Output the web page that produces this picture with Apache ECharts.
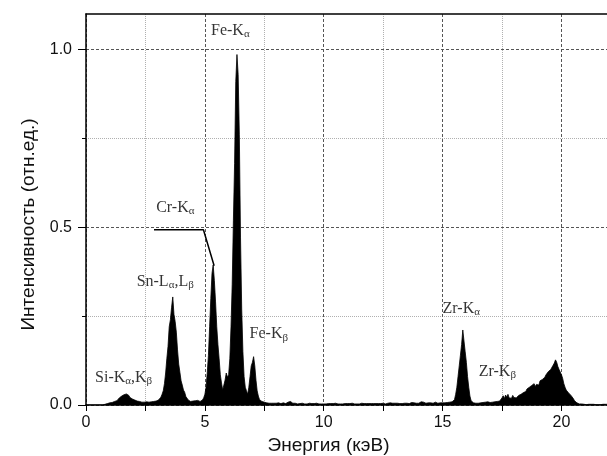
<!DOCTYPE html>
<html><head><meta charset="utf-8">
<script src="https://cdn.jsdelivr.net/npm/echarts@6/dist/echarts.min.js"></script>
<style>html,body{margin:0;padding:0;background:#fff}#c{width:607px;height:456px}</style>
</head><body><div id="c"></div>
<script>
// Spectrum: channel start and width in keV, then intensity per channel (rel. units)
const energyStart = 0;
const energyStep = 0.05;
const intensity = [
  0,0,0,0,0,0,0,0,0,0,0,0,0,0,0,0,0.002,0.003,0.004,0.005,
  0.006,0.005,0.007,0.008,0.010,0.009,0.012,0.015,0.020,0.016,0.025,0.020,0.029,0.024,0.031,0.026,0.027,0.021,0.025,0.017,
  0.020,0.014,0.017,0.011,0.014,0.010,0.012,0.008,0.011,0.008,0.010,0.009,0.012,0.008,0.010,0.009,0.011,0.010,0.012,0.011,
  0.013,0.014,0.018,0.022,0.030,0.040,0.060,0.090,0.130,0.165,0.220,0.240,0.275,0.304,0.255,0.235,0.205,0.155,0.115,0.092,
  0.068,0.056,0.042,0.036,0.024,0.021,0.014,0.013,0.010,0.013,0.011,0.009,0.012,0.010,0.013,0.011,0.010,0.012,0.014,0.020,
  0.030,0.050,0.090,0.140,0.220,0.300,0.370,0.394,0.350,0.290,0.220,0.170,0.130,0.085,0.062,0.042,0.040,0.070,0.090,0.078,
  0.085,0.130,0.220,0.340,0.520,0.680,0.910,0.986,0.930,0.760,0.470,0.270,0.150,0.080,0.050,0.040,0.030,0.050,0.080,0.110,
  0.120,0.136,0.110,0.070,0.040,0.025,0.015,0.012,0.010,0.012,0.008,0.007,0.006,0.008,0.005,0.006,0.005,0.007,0.005,0.004,
  0.005,0.004,0.006,0.005,0.004,0.005,0.006,0.005,0.004,0.006,0.008,0.012,0.010,0.007,0.005,0.004,0.005,0.004,0.003,0.004,
  0.004,0.003,0.005,0.004,0.003,0.004,0.003,0.004,0.005,0.003,0.004,0.003,0.004,0.003,0.005,0.004,0.003,0.004,0.003,0.004,
  0.003,0.004,0.003,0.005,0.004,0.003,0.004,0.003,0.004,0.003,0.005,0.004,0.003,0.004,0.003,0.004,0.003,0.005,0.004,0.003,
  0.004,0.003,0.004,0.003,0.005,0.004,0.003,0.004,0.003,0.004,0.003,0.004,0.005,0.003,0.004,0.003,0.004,0.003,0.004,0.005,
  0.004,0.003,0.004,0.003,0.004,0.005,0.004,0.003,0.004,0.006,0.005,0.004,0.003,0.004,0.005,0.004,0.006,0.004,0.005,0.004,
  0.005,0.004,0.005,0.006,0.004,0.005,0.004,0.006,0.005,0.004,0.005,0.006,0.004,0.005,0.007,0.005,0.006,0.004,0.005,0.006,
  0.005,0.007,0.009,0.011,0.008,0.006,0.005,0.007,0.006,0.008,0.006,0.007,0.005,0.006,0.008,0.006,0.005,0.007,0.006,0.008,
  0.006,0.007,0.006,0.008,0.007,0.006,0.008,0.007,0.009,0.010,0.015,0.030,0.050,0.080,0.110,0.140,0.170,0.211,0.180,0.150,
  0.120,0.080,0.050,0.025,0.012,0.008,0.006,0.007,0.005,0.006,0.005,0.007,0.006,0.005,0.007,0.006,0.008,0.007,0.009,0.008,
  0.007,0.009,0.008,0.010,0.009,0.011,0.010,0.012,0.011,0.013,0.020,0.026,0.018,0.028,0.022,0.030,0.020,0.024,0.019,0.027,
  0.021,0.025,0.020,0.023,0.027,0.024,0.030,0.028,0.035,0.040,0.038,0.045,0.042,0.050,0.046,0.055,0.050,0.060,0.052,0.058,
  0.062,0.056,0.068,0.064,0.072,0.070,0.078,0.085,0.080,0.094,0.090,0.100,0.105,0.112,0.118,0.127,0.120,0.108,0.100,0.095,
  0.085,0.075,0.060,0.050,0.042,0.038,0.034,0.030,0.027,0.024,0.018,0.012,0.008,0.006,0.004,0.003,0.002,0.003,0.002,0.002,
  0.002,0.001,0.002,0.002,0.001,0.002,0.001,0.002,0.002,0.001,0.002,0.001,0.002,0.001,0.002,0.002,0.001,0.002,0.001,0.002,
  0.001
];

// Axis ticks
const xMajorTicks = [0, 5, 10, 15, 20];
const xMinorTicks = [2.5, 7.5, 12.5, 17.5];
const yMajorTicks = [0, 0.5, 1.0];
const yMinorTicks = [0.25, 0.75];

// Peak annotations (anchor: left edge / vertical middle, in data units)
const annoText = ['Fe-K{s|α}', 'Cr-K{s|α}', 'Sn-L{s|α},L{s|β}', 'Si-K{s|α},K{s|β}', 'Fe-K{s|β}', 'Zr-K{s|α}', 'Zr-K{s|β}'];
const annoX = [5.26, 2.95, 2.13, 0.38, 6.88, 15.0, 16.52];
const annoY = [1.054, 0.556, 0.348, 0.077, 0.199, 0.270, 0.094];

// Leader line from the Cr-Kα label to its peak
const leaderX = [2.86, 4.94, 5.39];
const leaderY = [0.493, 0.493, 0.392];

const spectrum = intensity.map((v, i) => [+(energyStart + i * energyStep).toFixed(2), v]);
const annoData = annoText.map((t, i) => ({ value: [annoX[i], annoY[i]], text: t }));
const leaderData = leaderX.map((x, i) => [x, leaderY[i]]);

const sans = 'Liberation Sans, Arial, sans-serif';
const serif = 'Liberation Serif, Times New Roman, serif';
const XMAX = 22, YMAX = 1.1;

const chart = echarts.init(document.getElementById('c'), null, { renderer: 'canvas' });
chart.setOption({
  animation: false,
  backgroundColor: '#fff',
  grid: { left: 86, top: 14, right: -2, bottom: 51, outerBoundsMode: 'none', containLabel: false },
  xAxis: [
    { // minor grid
      type: 'value', min: 0, max: XMAX, interval: 2.5, position: 'bottom',
      axisLine: { show: false },
      axisTick: { show: true, length: 6, customValues: xMinorTicks, lineStyle: { color: '#000', width: 1 } },
      axisLabel: { show: false },
      splitLine: { show: true, lineStyle: { color: '#b0b0b0', width: 1, type: [1, 1] } }
    },
    { // major
      type: 'value', min: 0, max: XMAX, interval: 5, position: 'bottom',
      axisLine: { show: true, onZero: false, lineStyle: { color: '#000', width: 1.5 } },
      axisTick: { show: true, length: 6, customValues: xMajorTicks, lineStyle: { color: '#000', width: 1 } },
      axisLabel: { show: true, customValues: xMajorTicks, margin: 10, color: '#111', fontSize: 16, fontFamily: sans,
        formatter: v => String(Math.round(v)) },
      splitLine: { show: true, lineStyle: { color: '#555', width: 1, type: [3, 2] } },
      name: 'Энергия (кэВ)', nameLocation: 'middle', nameGap: 29,
      nameTextStyle: { fontSize: 19, fontFamily: sans, color: '#111', padding: [0, 38, 0, 0] }
    },
    { // top frame
      type: 'value', min: 0, max: XMAX, position: 'top',
      axisLine: { show: true, onZero: false, lineStyle: { color: '#000', width: 1.5 } },
      axisTick: { show: false }, axisLabel: { show: false }, splitLine: { show: false }
    }
  ],
  yAxis: [
    { // minor grid
      type: 'value', min: 0, max: YMAX, interval: 0.25, position: 'left',
      axisLine: { show: false },
      axisTick: { show: true, length: 4, customValues: yMinorTicks, lineStyle: { color: '#000', width: 1 } },
      axisLabel: { show: false },
      splitLine: { show: true, lineStyle: { color: '#b0b0b0', width: 1, type: [1, 1] } }
    },
    { // major
      type: 'value', min: 0, max: YMAX, interval: 0.5, position: 'left',
      axisLine: { show: true, onZero: false, lineStyle: { color: '#000', width: 1.5 } },
      axisTick: { show: true, length: 8, customValues: yMajorTicks, lineStyle: { color: '#000', width: 1 } },
      axisLabel: { show: true, customValues: yMajorTicks, margin: 14, color: '#111', fontSize: 16, fontFamily: sans,
        formatter: v => v.toFixed(1) },
      splitLine: { show: true, lineStyle: { color: '#555', width: 1, type: [3, 2] } },
      name: 'Интенсивность (отн.ед.)', nameLocation: 'middle', nameGap: 48,
      nameTextStyle: { fontSize: 19, fontFamily: sans, color: '#111', padding: [0, 30, 0, 0] }
    }
  ],
  series: [
    {
      type: 'line', xAxisIndex: 1, yAxisIndex: 1, data: spectrum,
      showSymbol: false, symbol: 'none', sampling: null, smooth: false,
      lineStyle: { color: '#000', width: 0.8 },
      areaStyle: { color: '#000', opacity: 1 },
      z: 3
    },
    {
      type: 'line', xAxisIndex: 1, yAxisIndex: 1, data: leaderData,
      showSymbol: false, symbol: 'none',
      lineStyle: { color: '#000', width: 1.5 }, z: 4
    },
    {
      type: 'scatter', xAxisIndex: 1, yAxisIndex: 1, data: annoData,
      symbolSize: 0, z: 5,
      label: {
        show: true, position: 'right', distance: 0,
        formatter: p => p.data.text,
        fontFamily: serif, fontSize: 16, color: '#000', lineHeight: 18,
        rich: { s: { fontFamily: serif, fontSize: 11, color: '#000', verticalAlign: 'bottom', lineHeight: 14, padding: [4, 0, 0, 0] } }
      },
      emphasis: { disabled: true }
    }
  ]
});
</script>
</body></html>
